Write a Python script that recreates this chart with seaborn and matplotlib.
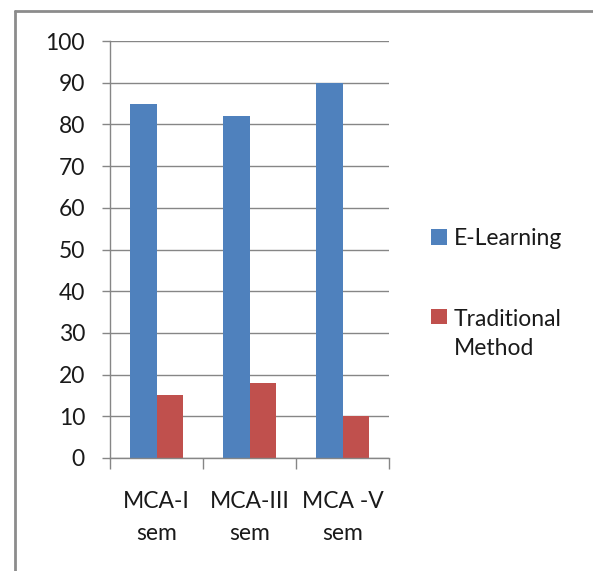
import matplotlib
matplotlib.use("Agg")
import matplotlib.pyplot as plt
from matplotlib.lines import Line2D
import seaborn as sns
import pandas as pd

categories = ["MCA-I\nsem", "MCA-III\nsem", "MCA -V\nsem"]
e_learning = [85, 82, 90]
traditional = [15, 18, 10]
series_names = ["E-Learning", "Traditional\nMethod"]
colors = ["#4F81BD", "#C0504D"]
y_ticks = [0, 10, 20, 30, 40, 50, 60, 70, 80, 90, 100]

df = pd.DataFrame({
    "category": categories * 2,
    "series": [series_names[0]] * 3 + [series_names[1]] * 3,
    "value": e_learning + traditional,
})

sns.set_theme(style="white")
plt.rcParams["font.family"] = ["Lato", "DejaVu Sans"]

FS = 16.5
W, H = 593, 571
fig = plt.figure(figsize=(W / 100, H / 100), dpi=100)
ax = fig.add_axes([110 / W, 1 - 458 / H, (389 - 110) / W, (458 - 41) / H])

sns.barplot(data=df, x="category", y="value", hue="series", palette=colors,
            width=0.58, ax=ax, saturation=1, edgecolor="none", linewidth=0,
            legend=True)

gray = "#868686"
ax.set_ylim(0, 100)
ax.set_xlim(-0.5, 2.5)
ax.set_yticks(y_ticks)
ax.set_yticklabels([str(v) for v in y_ticks], fontsize=FS, color="#1a1a1a")
ax.yaxis.grid(True, color=gray, linewidth=1)
ax.set_axisbelow(True)
ax.set_xlabel("")
ax.set_ylabel("")
ax.set_xticks([0, 1, 2])
ax.set_xticklabels(categories, fontsize=FS, color="#1a1a1a", linespacing=1.65)
ax.set_xticks([-0.5, 0.5, 1.5, 2.5], minor=True)
ax.tick_params(axis="x", which="major", length=0, pad=24)
ax.tick_params(axis="x", which="minor", length=8, width=1, color=gray, direction="out", bottom=True)
ax.tick_params(axis="y", which="major", length=6, width=1, color=gray, direction="out", left=True, pad=12)
for side in ["top", "right"]:
    ax.spines[side].set_visible(False)
for side in ["left", "bottom"]:
    ax.spines[side].set_color(gray)
    ax.spines[side].set_linewidth(1)

handles, labels = ax.get_legend_handles_labels()
ax.get_legend().remove()
leg = fig.legend(handles, labels, loc="upper left", bbox_to_anchor=(422 / W, 1 - 219 / H),
                 frameon=False, fontsize=FS, handlelength=0.68, handleheight=0.68,
                 handletextpad=0.3, labelspacing=2.6, borderaxespad=0)
for t in leg.get_texts():
    t.set_linespacing(1.5)
    t.set_color("#1a1a1a")
# put the square beside the first line of a two-line entry, as Excel does
entries = leg._legend_handle_box.get_children()[0].get_children()
entries[1].align = "top"

# outer chart border (top and left)
fig.add_artist(Line2D([15 / W, 1.0], [1 - 11 / H, 1 - 11 / H], transform=fig.transFigure,
                      color="#8c8c8c", linewidth=2))
fig.add_artist(Line2D([15 / W, 15 / W], [0.0, 1 - 11 / H], transform=fig.transFigure,
                      color="#8c8c8c", linewidth=2))

fig.savefig("out.png", dpi=100, facecolor="white")
